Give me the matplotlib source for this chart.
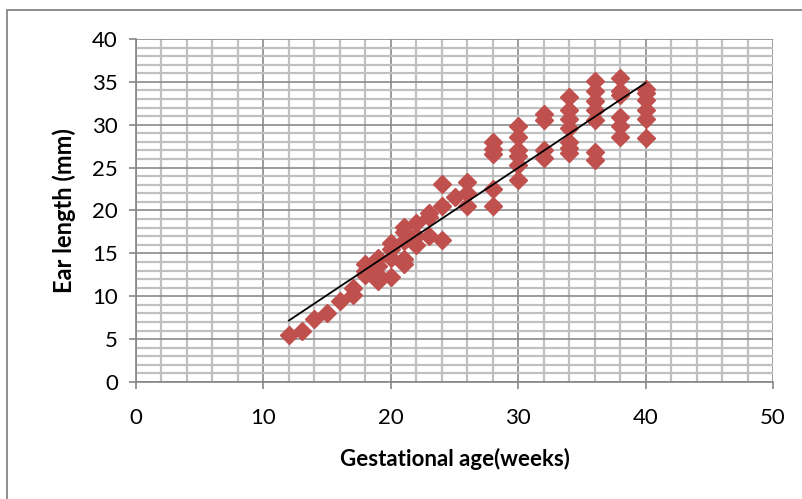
import numpy as np
import matplotlib.pyplot as plt
from matplotlib.patches import Rectangle
from matplotlib.ticker import MultipleLocator

# Gestational age (weeks) and ear length (mm)
weeks = [12, 13, 14, 15, 16,
         17, 17,
         18, 18, 18,
         19, 19, 19, 19,
         20, 20, 20, 20,
         21, 21, 21, 21, 21,
         22, 22, 22,
         23, 23, 23,
         24, 24, 24,
         25,
         26, 26, 26,
         28, 28, 28, 28, 28,
         30, 30, 30, 30, 30, 30,
         32, 32, 32, 32,
         34, 34, 34, 34, 34, 34, 34,
         36, 36, 36, 36, 36, 36, 36,
         38, 38, 38, 38, 38, 38,
         40, 40, 40, 40, 40, 40]
ear_mm = [5.5, 5.9, 7.4, 8.0, 9.5,
          10.1, 11.0,
          12.5, 13.0, 13.8,
          11.8, 12.5, 13.5, 14.5,
          12.2, 14.5, 15.5, 16.2,
          13.8, 14.3, 16.5, 17.5, 18.1,
          16.0, 17.0, 18.5,
          17.0, 19.3, 19.7,
          16.6, 20.5, 23.1,
          21.6,
          20.5, 22.0, 23.3,
          20.5, 22.5, 26.6, 27.2, 28.0,
          23.5, 25.3, 26.3, 27.1, 28.6, 29.8,
          26.1, 27.0, 30.5, 31.3,
          26.7, 27.3, 28.0, 29.6, 30.7, 31.7, 33.2,
          25.9, 26.8, 30.5, 31.7, 32.8, 33.9, 35.1,
          28.6, 29.8, 30.9, 33.5, 33.9, 35.4,
          28.4, 30.7, 31.7, 32.9, 33.7, 34.2]

x = np.array(weeks, dtype=float)
y = np.array(ear_mm)

fig = plt.figure(figsize=(8.02, 4.99), dpi=100)
plt.rcParams['font.family'] = ['Lato', 'DejaVu Sans']

# outer chart frame (only top and left edges visible)
fig.patches.append(Rectangle((7/802, -0.1), 1.2, 1 - 10/499 + 0.1, transform=fig.transFigure,
                             fill=False, edgecolor='#868686', linewidth=1.3))

ax = fig.add_axes([136/802, 1 - 382/499, 637/802, 343/499])
ax.set_xlim(0, 50)
ax.set_ylim(0, 40)

ax.xaxis.set_major_locator(MultipleLocator(10))
ax.xaxis.set_minor_locator(MultipleLocator(2))
ax.yaxis.set_major_locator(MultipleLocator(5))
ax.yaxis.set_minor_locator(MultipleLocator(1))
ax.grid(which='minor', color='#c0c0c0', linewidth=1.6)
ax.grid(which='major', color='#8a8a8a', linewidth=1.2)
ax.set_axisbelow(True)

for side in ['top', 'right']:
    ax.spines[side].set_visible(False)
for side in ['left', 'bottom']:
    ax.spines[side].set_color('#868686')
    ax.spines[side].set_linewidth(1.2)

ax.tick_params(which='major', length=5, width=1.2, color='#868686', labelsize=16, pad=8)
ax.tick_params(which='minor', length=0)
ax.tick_params(axis='x', pad=14)

# scatter points
ax.plot(x, y, linestyle='none', marker='D', markersize=9.5, color='#C0504D')

# linear trendline
coef = np.polyfit(x, y, 1)
xt = np.array([x.min(), x.max()])
ax.plot(xt, np.polyval(coef, xt), color='black', linewidth=1.3)

ax.set_xlabel('Gestational age(weeks)', fontsize=16, fontweight='bold', labelpad=14)
ax.set_ylabel('Ear length (mm)', fontsize=17, fontweight='bold', labelpad=12)

plt.savefig('out.png', dpi=100)
